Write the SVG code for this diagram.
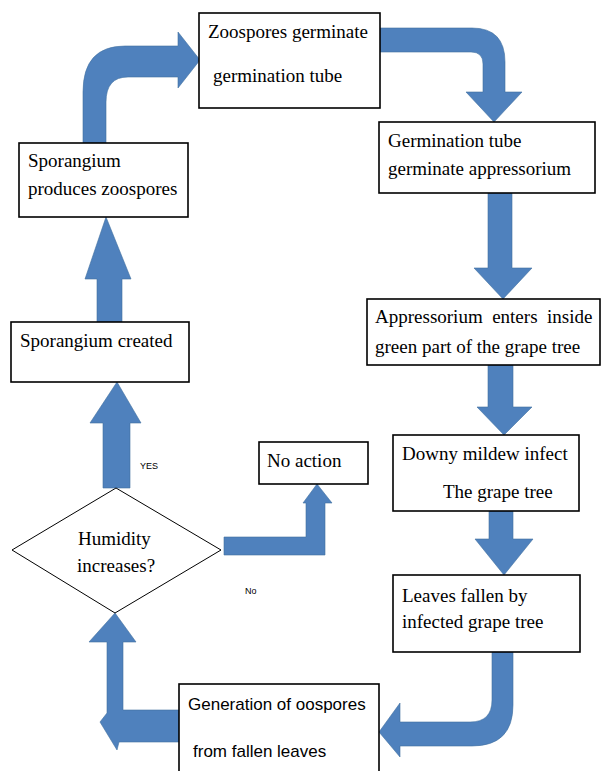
<svg xmlns="http://www.w3.org/2000/svg" width="602" height="771" viewBox="0 0 602 771">
<style>
.box{fill:#fff;stroke:#000;stroke-width:1.6}
.dia{fill:#fff;stroke:#000;stroke-width:1}
.arr{fill:#4F81BD;stroke:#41709F;stroke-width:0.6}
.t{font-family:"Liberation Serif","Times New Roman",serif;font-size:19px;fill:#000;white-space:pre}
.s{font-family:"Liberation Sans",Arial,sans-serif;font-size:17px;fill:#000}
.lbl{font-family:"Liberation Sans",Arial,sans-serif;font-size:9px;fill:#000}
</style>
<rect width="602" height="771" fill="#fff"/>
<g id="connectors">
<path class="arr" d="M83 143 L83 92 Q83 46 125 46 L178 46 L178 32 L200 60 L178 88 L178 77 L128 77 Q106 77 106 102 L106 143 Z"/>
<path class="arr" d="M380 28 L472 28 Q505 28 505 62 L505 92 L522 92 L494 122 L466 92 L483 92 L483 64 Q483 52 471 52 L380 52 Z"/>
<path class="arr" d="M488 193 L512 193 L512 268 L532 268 L503 299 L474 268 L488 268 Z"/>
<path class="arr" d="M488 365 L513 365 L513 407 L532 407 L504 435 L477 407 L488 407 Z"/>
<path class="arr" d="M489 511 L513 511 L513 539 L533 539 L504 575 L475 539 L489 539 Z"/>
<path class="arr" d="M492 652 L513 652 L513 705 Q513 746 472 746 L400 746 L400 757 L379 732 L400 703 L400 722 L470 722 Q492 722 492 700 Z"/>
<path class="arr" d="M115 613 L136 642 L123 642 L123 710 L179 710 L179 742 L119 742 L117 750 L100 722 L107 713 L107 642 L89 642 Z"/>
<path class="arr" d="M117 382 L141 423 L130 423 L130 488 L103 488 L103 423 L90 423 Z"/>
<path class="arr" d="M224 537 L306 537 L306 503 L303 503 L317 484 L332 503 L325 503 L325 555 L224 555 Z"/>
<path class="arr" d="M106 217 L131 279 L122 279 L122 322 L97 322 L97 279 L85 279 Z"/>
<text class="lbl" x="140" y="469">YES</text>
<text class="lbl" x="245" y="594">No</text>
</g>
<g id="n1"><rect class="box" x="199" y="13" width="181" height="95"/>
<text class="t" x="208" y="38">Zoospores germinate</text>
<text class="t" x="213" y="82">germination tube</text></g>
<g id="n2"><rect class="box" x="379" y="122" width="216" height="71"/>
<text class="t" x="388" y="147">Germination tube</text>
<text class="t" x="388" y="175">germinate appressorium</text></g>
<g id="n3"><rect class="box" x="367" y="299" width="233" height="66"/>
<text class="t" x="375" y="323">Appressorium  enters  inside</text>
<text class="t" x="375" y="353">green part of the grape tree</text></g>
<g id="n4"><rect class="box" x="393" y="435" width="186" height="76"/>
<text class="t" x="402" y="460">Downy mildew infect</text>
<text class="t" x="443" y="498">The grape tree</text></g>
<g id="n5"><rect class="box" x="393" y="575" width="187" height="77"/>
<text class="t" x="402" y="602">Leaves fallen by</text>
<text class="t" x="402" y="628">infected grape tree</text></g>
<g id="n6"><rect class="box" x="179" y="684" width="200" height="92"/>
<text class="s" x="188" y="710">Generation of oospores</text>
<text class="s" x="193" y="757">from fallen leaves</text></g>
<g id="n7"><rect class="box" x="19" y="143" width="169" height="74"/>
<text class="t" x="28" y="167">Sporangium</text>
<text class="t" x="28" y="195">produces zoospores</text></g>
<g id="n8"><rect class="box" x="11" y="322" width="178" height="60"/>
<text class="t" x="20" y="347">Sporangium created</text></g>
<g id="n9"><rect class="box" x="259" y="442" width="109" height="42"/>
<text class="t" x="267" y="467">No action</text></g>
<g id="n10"><polygon class="dia" points="12,550 116,488 221,550 115,613"/>
<text class="t" x="78" y="545">Humidity</text>
<text class="t" x="77" y="572">increases?</text></g>
</svg>
